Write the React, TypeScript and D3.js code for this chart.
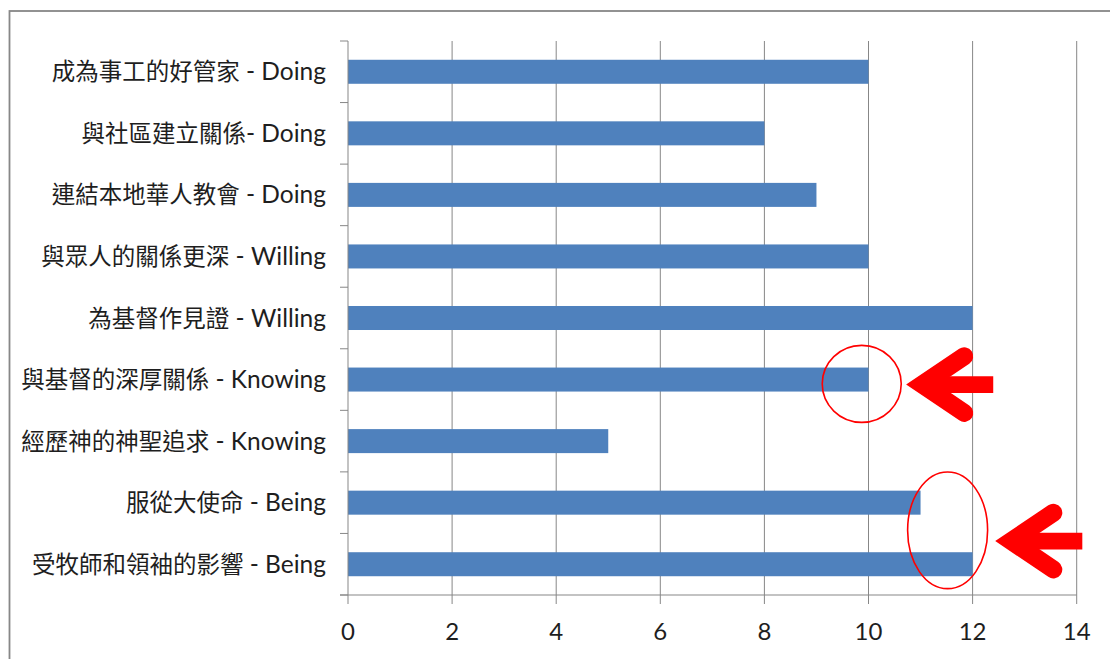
import React from "react";
import * as d3 from "d3";

// Survey categories (top to bottom) and their counts
const categories = [
  "成為事工的好管家 - Doing",
  "與社區建立關係- Doing",
  "連結本地華人教會 - Doing",
  "與眾人的關係更深 - Willing",
  "為基督作見證 - Willing",
  "與基督的深厚關係 - Knowing",
  "經歷神的神聖追求 - Knowing",
  "服從大使命 - Being",
  "受牧師和領袖的影響 - Being",
];
const counts = [10, 8, 9, 10, 12, 10, 5, 11, 12];
const xTicks = [0, 2, 4, 6, 8, 10, 12, 14];

// Highlight callouts: ellipse centre (value, row position), radii in px, arrow gap
const callouts = [
  { value: 9.87, row: 5, rowOffset: 0.07, rx: 39.5, ry: 38.5, gap: 5, arrowDy: 0.7 },
  { value: 11.52, row: 7.5, rowOffset: -0.05, rx: 40, ry: 58.3, gap: 7.7, arrowDy: 10.7 },
];

const W = 1110;
const H = 659;
const margin = { left: 348, right: 33.3, top: 41, bottom: 64 };

const BAR = "#4F81BD";
const GRID = "#878787";
const TEXT = "#1e1e1e";
const RED = "#FF0000";

function splitLabel(s: string): [string, string] {
  const i = s.indexOf("-");
  let j = i;
  while (j > 0 && s[j - 1] === " ") j--;
  return [s.slice(0, j), s.slice(j)];
}

// Thick red arrow pointing left, tip at (tx, ty)
function Arrow({ tx, ty }: { tx: number; ty: number }) {
  const w = 18;
  const vx = tx + 16;
  const armDx = 42;
  const armDy = 28.3;
  return (
    <g>
      <line x1={vx} y1={ty} x2={tx + 87} y2={ty} stroke={RED} strokeWidth={16.7} />
      <path
        d={`M${vx + armDx},${ty - armDy}L${vx},${ty}L${vx + armDx},${ty + armDy}`}
        fill="none"
        stroke={RED}
        strokeWidth={w}
        strokeLinecap="round"
        strokeLinejoin="miter"
      />
    </g>
  );
}

export default function App() {
  const x = d3
    .scaleLinear()
    .domain([0, 14])
    .range([margin.left, W - margin.right]);
  const y = d3
    .scaleBand<string>()
    .domain(categories)
    .range([margin.top, H - margin.bottom])
    .padding(0);
  const step = y.step();
  const barH = step * 0.39;
  const y0 = margin.top;
  const yBottom = H - margin.bottom;
  const rowY = (r: number) => y0 + step * (r + 0.5);

  return (
    <svg
      width={W}
      height={H}
      style={{ position: "absolute", left: 0, top: 0, background: "#fff" }}
    >
      <rect x={9.5} y={11} width={W + 20} height={H + 20} fill="#fff" stroke={GRID} strokeWidth={1.8} />

      {/* vertical gridlines */}
      {xTicks.slice(1).map((t) => (
        <line key={t} x1={x(t)} x2={x(t)} y1={y0} y2={yBottom} stroke={GRID} strokeWidth={1} />
      ))}

      {/* bars */}
      {categories.map((c, i) => (
        <rect
          key={c}
          x={x(0)}
          y={(y(c) as number) + step / 2 - barH / 2}
          width={x(counts[i]) - x(0)}
          height={barH}
          fill={BAR}
        />
      ))}

      {/* y axis with ticks at band boundaries */}
      <line x1={x(0)} x2={x(0)} y1={y0} y2={yBottom} stroke={GRID} strokeWidth={1} />
      {d3.range(categories.length + 1).map((k) => (
        <line key={k} x1={x(0) - 8} x2={x(0)} y1={y0 + k * step} y2={y0 + k * step} stroke={GRID} strokeWidth={1} />
      ))}

      {/* x axis */}
      <line x1={x(0) - 8} x2={x(14)} y1={yBottom} y2={yBottom} stroke={GRID} strokeWidth={1} />
      {xTicks.map((t) => (
        <g key={t}>
          <line x1={x(t)} x2={x(t)} y1={yBottom} y2={yBottom + 9} stroke={GRID} strokeWidth={1} />
          <text
            x={x(t)}
            y={yBottom + 45}
            textAnchor="middle"
            fontFamily="Lato, 'Open Sans', sans-serif"
            fontSize={24}
            fill={TEXT}
          >
            {t}
          </text>
        </g>
      ))}

      {/* category labels */}
      {categories.map((c) => {
        const [zh, en] = splitLabel(c);
        return (
          <text
            key={c}
            x={326}
            y={(y(c) as number) + step / 2 + 8.5}
            textAnchor="end"
            fill={TEXT}
          >
            <tspan fontFamily="'Noto Sans CJK TC', sans-serif" fontSize={23.5}>
              {zh}
            </tspan>
            <tspan fontFamily="Lato, sans-serif" fontSize={24.5}>
              {en}
            </tspan>
          </text>
        );
      })}

      {/* red highlight callouts */}
      {callouts.map((a, i) => {
        const cx = x(a.value);
        const cy = rowY(a.row + a.rowOffset);
        return (
          <g key={i}>
            <ellipse cx={cx} cy={cy} rx={a.rx} ry={a.ry} fill="none" stroke={RED} strokeWidth={1.6} />
            <Arrow tx={cx + a.rx + a.gap} ty={cy + a.arrowDy} />
          </g>
        );
      })}
    </svg>
  );
}
